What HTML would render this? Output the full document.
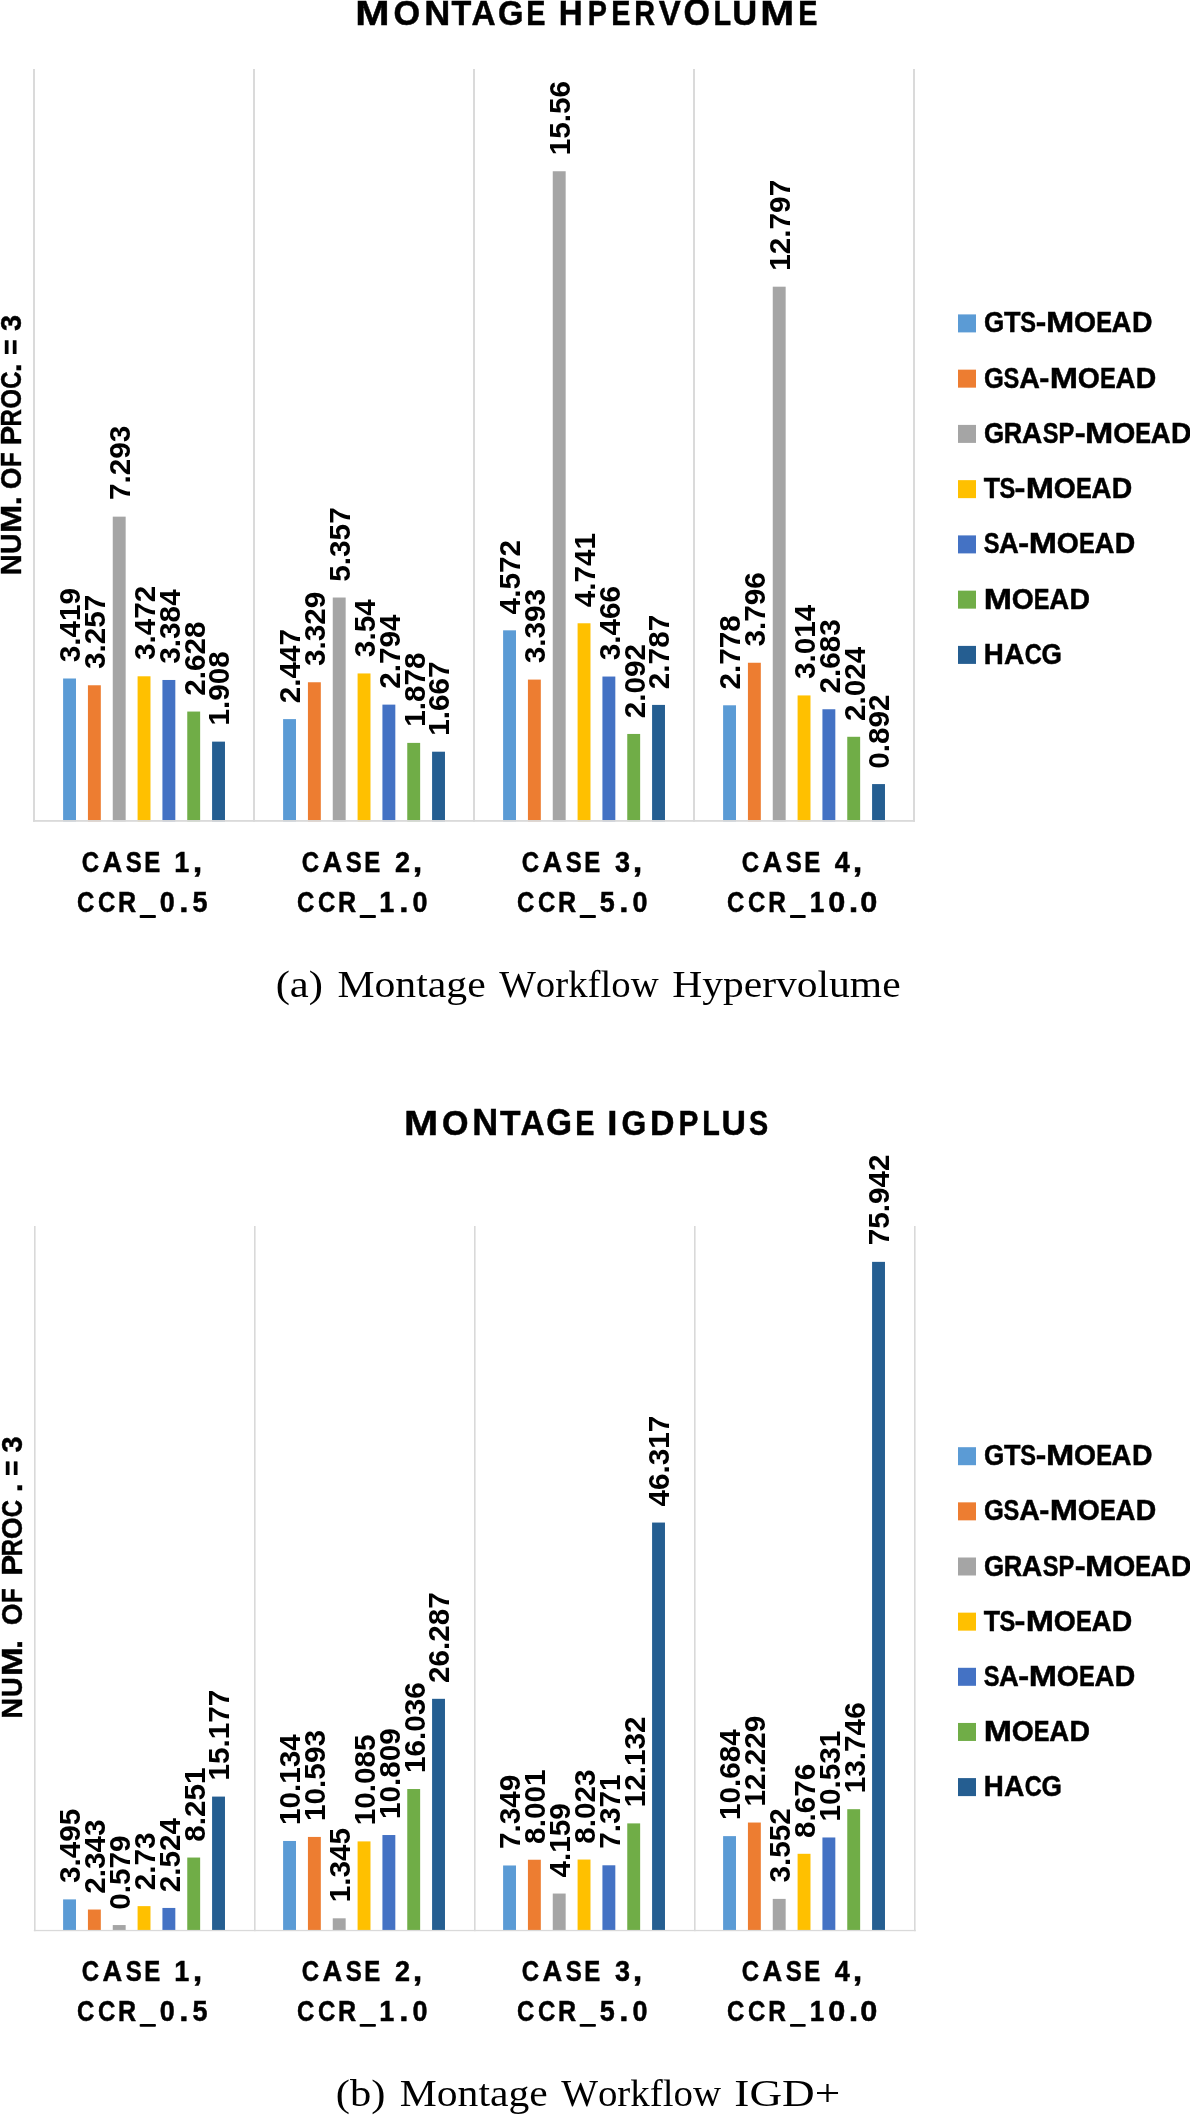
<!DOCTYPE html><html><head><meta charset="utf-8"><style>html,body{margin:0;padding:0;background:#fff;overflow:hidden}svg{display:block;will-change:transform}text{font-kerning:none;font-variant-ligatures:none;white-space:pre;fill:#000}</style></head><body>
<svg width="1190" height="2115" viewBox="0 0 1190 2115">
<rect width="1190" height="2115" fill="#fff"/>
<rect x="33.05" y="69" width="1.9" height="752.80" fill="#d9d9d9"/>
<rect x="253.05" y="69" width="1.9" height="752.80" fill="#d9d9d9"/>
<rect x="473.05" y="69" width="1.9" height="752.80" fill="#d9d9d9"/>
<rect x="693.05" y="69" width="1.9" height="752.80" fill="#d9d9d9"/>
<rect x="913.05" y="69" width="1.9" height="752.80" fill="#d9d9d9"/>
<rect x="63.10" y="678.50" width="12.9" height="142.85" fill="#5B9BD5"/>
<rect x="87.93" y="685.27" width="12.9" height="136.08" fill="#ED7D31"/>
<rect x="112.76" y="516.65" width="12.9" height="304.70" fill="#A5A5A5"/>
<rect x="137.59" y="676.29" width="12.9" height="145.06" fill="#FFC000"/>
<rect x="162.42" y="679.97" width="12.9" height="141.38" fill="#4472C4"/>
<rect x="187.25" y="711.55" width="12.9" height="109.80" fill="#70AD47"/>
<rect x="212.08" y="741.63" width="12.9" height="79.72" fill="#255E91"/>
<rect x="283.10" y="719.11" width="12.9" height="102.24" fill="#5B9BD5"/>
<rect x="307.93" y="682.26" width="12.9" height="139.09" fill="#ED7D31"/>
<rect x="332.76" y="597.53" width="12.9" height="223.82" fill="#A5A5A5"/>
<rect x="357.59" y="673.45" width="12.9" height="147.90" fill="#FFC000"/>
<rect x="382.42" y="704.62" width="12.9" height="116.73" fill="#4472C4"/>
<rect x="407.25" y="742.89" width="12.9" height="78.46" fill="#70AD47"/>
<rect x="432.08" y="751.70" width="12.9" height="69.65" fill="#255E91"/>
<rect x="503.10" y="630.33" width="12.9" height="191.02" fill="#5B9BD5"/>
<rect x="527.93" y="679.59" width="12.9" height="141.76" fill="#ED7D31"/>
<rect x="552.76" y="171.25" width="12.9" height="650.10" fill="#A5A5A5"/>
<rect x="577.59" y="623.27" width="12.9" height="198.08" fill="#FFC000"/>
<rect x="602.42" y="676.54" width="12.9" height="144.81" fill="#4472C4"/>
<rect x="627.25" y="733.95" width="12.9" height="87.40" fill="#70AD47"/>
<rect x="652.08" y="704.91" width="12.9" height="116.44" fill="#255E91"/>
<rect x="723.10" y="705.29" width="12.9" height="116.06" fill="#5B9BD5"/>
<rect x="747.93" y="662.75" width="12.9" height="158.60" fill="#ED7D31"/>
<rect x="772.76" y="286.69" width="12.9" height="534.66" fill="#A5A5A5"/>
<rect x="797.59" y="695.43" width="12.9" height="125.92" fill="#FFC000"/>
<rect x="822.42" y="709.25" width="12.9" height="112.10" fill="#4472C4"/>
<rect x="847.25" y="736.79" width="12.9" height="84.56" fill="#70AD47"/>
<rect x="872.08" y="784.08" width="12.9" height="37.27" fill="#255E91"/>
<rect x="33.00" y="820.05" width="882" height="1.75" fill="#d9d9d9"/>
<text transform="translate(80.45,662.19) rotate(-90)" style="font-family:'Liberation Sans';font-weight:700;font-size:29.7px;letter-spacing:0.000px">3.419</text>
<text transform="translate(105.28,668.95) rotate(-90)" style="font-family:'Liberation Sans';font-weight:700;font-size:29.7px;letter-spacing:0.000px">3.257</text>
<text transform="translate(130.11,500.12) rotate(-90)" style="font-family:'Liberation Sans';font-weight:700;font-size:29.7px;letter-spacing:0.000px">7.293</text>
<text transform="translate(154.94,659.97) rotate(-90)" style="font-family:'Liberation Sans';font-weight:700;font-size:29.7px;letter-spacing:0.000px">3.472</text>
<text transform="translate(179.77,663.65) rotate(-90)" style="font-family:'Liberation Sans';font-weight:700;font-size:29.7px;letter-spacing:0.000px">3.384</text>
<text transform="translate(204.60,695.78) rotate(-90)" style="font-family:'Liberation Sans';font-weight:700;font-size:29.7px;letter-spacing:0.000px">2.628</text>
<text transform="translate(229.43,725.60) rotate(-90)" style="font-family:'Liberation Sans';font-weight:700;font-size:29.7px;letter-spacing:0.000px">1.908</text>
<text transform="translate(300.45,703.34) rotate(-90)" style="font-family:'Liberation Sans';font-weight:700;font-size:29.7px;letter-spacing:0.000px">2.447</text>
<text transform="translate(325.28,665.95) rotate(-90)" style="font-family:'Liberation Sans';font-weight:700;font-size:29.7px;letter-spacing:0.000px">3.329</text>
<text transform="translate(350.11,581.65) rotate(-90)" style="font-family:'Liberation Sans';font-weight:700;font-size:29.7px;letter-spacing:0.000px">5.357</text>
<text transform="translate(374.94,657.13) rotate(-90)" style="font-family:'Liberation Sans';font-weight:700;font-size:29.7px;letter-spacing:0.000px">3.54</text>
<text transform="translate(399.77,688.85) rotate(-90)" style="font-family:'Liberation Sans';font-weight:700;font-size:29.7px;letter-spacing:0.000px">2.794</text>
<text transform="translate(424.60,726.86) rotate(-90)" style="font-family:'Liberation Sans';font-weight:700;font-size:29.7px;letter-spacing:0.000px">1.878</text>
<text transform="translate(449.43,735.67) rotate(-90)" style="font-family:'Liberation Sans';font-weight:700;font-size:29.7px;letter-spacing:0.000px">1.667</text>
<text transform="translate(520.45,614.38) rotate(-90)" style="font-family:'Liberation Sans';font-weight:700;font-size:29.7px;letter-spacing:0.000px">4.572</text>
<text transform="translate(545.28,663.27) rotate(-90)" style="font-family:'Liberation Sans';font-weight:700;font-size:29.7px;letter-spacing:0.000px">3.393</text>
<text transform="translate(570.11,155.22) rotate(-90)" style="font-family:'Liberation Sans';font-weight:700;font-size:29.7px;letter-spacing:0.000px">15.56</text>
<text transform="translate(594.94,607.32) rotate(-90)" style="font-family:'Liberation Sans';font-weight:700;font-size:29.7px;letter-spacing:0.000px">4.741</text>
<text transform="translate(619.77,660.22) rotate(-90)" style="font-family:'Liberation Sans';font-weight:700;font-size:29.7px;letter-spacing:0.000px">3.466</text>
<text transform="translate(644.60,718.18) rotate(-90)" style="font-family:'Liberation Sans';font-weight:700;font-size:29.7px;letter-spacing:0.000px">2.092</text>
<text transform="translate(669.43,689.14) rotate(-90)" style="font-family:'Liberation Sans';font-weight:700;font-size:29.7px;letter-spacing:0.000px">2.787</text>
<text transform="translate(740.45,689.51) rotate(-90)" style="font-family:'Liberation Sans';font-weight:700;font-size:29.7px;letter-spacing:0.000px">2.778</text>
<text transform="translate(765.28,646.43) rotate(-90)" style="font-family:'Liberation Sans';font-weight:700;font-size:29.7px;letter-spacing:0.000px">3.796</text>
<text transform="translate(790.11,270.66) rotate(-90)" style="font-family:'Liberation Sans';font-weight:700;font-size:29.7px;letter-spacing:0.000px">12.797</text>
<text transform="translate(814.94,679.11) rotate(-90)" style="font-family:'Liberation Sans';font-weight:700;font-size:29.7px;letter-spacing:0.000px">3.014</text>
<text transform="translate(839.77,693.48) rotate(-90)" style="font-family:'Liberation Sans';font-weight:700;font-size:29.7px;letter-spacing:0.000px">2.683</text>
<text transform="translate(864.60,721.02) rotate(-90)" style="font-family:'Liberation Sans';font-weight:700;font-size:29.7px;letter-spacing:0.000px">2.024</text>
<text transform="translate(889.43,768.76) rotate(-90)" style="font-family:'Liberation Sans';font-weight:700;font-size:29.7px;letter-spacing:0.000px">0.892</text>
<g style="font-family:'Liberation Sans';font-weight:700;font-size:36px;stroke:#000;stroke-width:0.5px"><text transform="translate(355.34,25.20) scale(1.144,1)">M</text><text transform="translate(393.40,25.20) scale(0.951,1)">O</text><text transform="translate(424.19,25.20) scale(1.002,1)">N</text><text transform="translate(451.54,25.20) scale(0.901,1)">T</text><text transform="translate(471.57,25.20) scale(0.927,1)">A</text><text transform="translate(497.96,25.20) scale(0.910,1)">G</text><text transform="translate(526.29,25.20) scale(0.800,1)">E</text><text transform="translate(558.78,25.20) scale(0.921,1)">H</text><text transform="translate(587.87,25.20) scale(0.800,1)">P</text><text transform="translate(611.14,25.20) scale(0.800,1)">E</text><text transform="translate(634.33,25.20) scale(0.800,1)">R</text><text transform="translate(658.78,25.20) scale(0.914,1)">V</text><text transform="translate(683.61,25.20) scale(0.943,1)">O</text><text transform="translate(713.53,25.20) scale(0.800,1)">L</text><text transform="translate(732.23,25.20) scale(0.957,1)">U</text><text transform="translate(760.17,25.20) scale(1.132,1)">M</text><text transform="translate(798.19,25.20) scale(0.800,1)">E</text></g>
<g style="font-family:'Liberation Sans';font-weight:700;font-size:30px;stroke:#000;stroke-width:0.4px"><text transform="translate(21.20,575.25) rotate(-90) scale(0.970,1)">N</text><text transform="translate(21.20,553.90) rotate(-90) scale(0.943,1)">U</text><text transform="translate(21.20,532.97) rotate(-90) scale(1.130,1)">M</text><text transform="translate(21.20,505.21) rotate(-90) scale(1.087,1)">.</text><text transform="translate(21.20,489.15) rotate(-90) scale(0.931,1)">O</text><text transform="translate(21.20,467.04) rotate(-90) scale(0.800,1)">F</text><text transform="translate(21.20,445.25) rotate(-90) scale(0.972,1)">P</text><text transform="translate(21.20,426.57) rotate(-90) scale(0.800,1)">R</text><text transform="translate(21.20,408.65) rotate(-90) scale(0.854,1)">O</text><text transform="translate(21.20,388.68) rotate(-90) scale(0.800,1)">C</text><text transform="translate(21.20,372.16) rotate(-90) scale(1.063,1)">.</text><text transform="translate(21.20,355.11) rotate(-90) scale(0.891,1)">=</text><text transform="translate(21.20,331.06) rotate(-90) scale(0.959,1)">3</text></g>
<rect x="958" y="314.40" width="18" height="18" fill="#5B9BD5"/>
<g style="font-family:'Liberation Sans';font-weight:700;font-size:29.5px;stroke:#000;stroke-width:0.5px"><text transform="translate(984.03,332.40) scale(0.884,1)">G</text><text transform="translate(1003.90,332.40) scale(0.915,1)">T</text><text transform="translate(1020.25,332.40) scale(0.800,1)">S</text><text transform="translate(1035.87,332.40) scale(1.068,1)">-</text><text transform="translate(1046.02,332.40) scale(1.150,1)">M</text><text transform="translate(1074.04,332.40) scale(0.961,1)">O</text><text transform="translate(1096.15,332.40) scale(0.800,1)">E</text><text transform="translate(1111.61,332.40) scale(0.935,1)">A</text><text transform="translate(1131.90,332.40) scale(0.962,1)">D</text></g>
<rect x="958" y="369.65" width="18" height="18" fill="#ED7D31"/>
<g style="font-family:'Liberation Sans';font-weight:700;font-size:29.5px;stroke:#000;stroke-width:0.5px"><text transform="translate(983.95,387.65) scale(0.864,1)">G</text><text transform="translate(1003.50,387.65) scale(0.800,1)">S</text><text transform="translate(1019.29,387.65) scale(0.970,1)">A</text><text transform="translate(1039.32,387.65) scale(1.028,1)">-</text><text transform="translate(1049.82,387.65) scale(1.150,1)">M</text><text transform="translate(1077.84,387.65) scale(0.961,1)">O</text><text transform="translate(1099.95,387.65) scale(0.800,1)">E</text><text transform="translate(1115.41,387.65) scale(0.935,1)">A</text><text transform="translate(1135.70,387.65) scale(0.962,1)">D</text></g>
<rect x="958" y="424.90" width="18" height="18" fill="#A5A5A5"/>
<g style="font-family:'Liberation Sans';font-weight:700;font-size:29.5px;stroke:#000;stroke-width:0.5px"><text transform="translate(984.04,442.90) scale(0.879,1)">G</text><text transform="translate(1003.69,442.90) scale(0.865,1)">R</text><text transform="translate(1021.79,442.90) scale(0.960,1)">A</text><text transform="translate(1042.75,442.90) scale(0.800,1)">S</text><text transform="translate(1058.59,442.90) scale(0.800,1)">P</text><text transform="translate(1074.82,442.90) scale(1.108,1)">-</text><text transform="translate(1085.12,442.90) scale(1.150,1)">M</text><text transform="translate(1113.14,442.90) scale(0.961,1)">O</text><text transform="translate(1135.25,442.90) scale(0.800,1)">E</text><text transform="translate(1150.71,442.90) scale(0.935,1)">A</text><text transform="translate(1171.00,442.90) scale(0.962,1)">D</text></g>
<rect x="958" y="480.15" width="18" height="18" fill="#FFC000"/>
<g style="font-family:'Liberation Sans';font-weight:700;font-size:29.5px;stroke:#000;stroke-width:0.5px"><text transform="translate(983.70,498.15) scale(0.904,1)">T</text><text transform="translate(999.45,498.15) scale(0.800,1)">S</text><text transform="translate(1014.52,498.15) scale(1.108,1)">-</text><text transform="translate(1025.82,498.15) scale(1.150,1)">M</text><text transform="translate(1053.84,498.15) scale(0.961,1)">O</text><text transform="translate(1075.95,498.15) scale(0.800,1)">E</text><text transform="translate(1091.41,498.15) scale(0.935,1)">A</text><text transform="translate(1111.70,498.15) scale(0.962,1)">D</text></g>
<rect x="958" y="535.40" width="18" height="18" fill="#4472C4"/>
<g style="font-family:'Liberation Sans';font-weight:700;font-size:29.5px;stroke:#000;stroke-width:0.5px"><text transform="translate(983.75,553.40) scale(0.800,1)">S</text><text transform="translate(999.02,553.40) scale(0.930,1)">A</text><text transform="translate(1018.32,553.40) scale(1.108,1)">-</text><text transform="translate(1028.82,553.40) scale(1.150,1)">M</text><text transform="translate(1056.84,553.40) scale(0.961,1)">O</text><text transform="translate(1078.95,553.40) scale(0.800,1)">E</text><text transform="translate(1094.41,553.40) scale(0.935,1)">A</text><text transform="translate(1114.70,553.40) scale(0.962,1)">D</text></g>
<rect x="958" y="590.65" width="18" height="18" fill="#70AD47"/>
<g style="font-family:'Liberation Sans';font-weight:700;font-size:29.5px;stroke:#000;stroke-width:0.5px"><text transform="translate(983.72,608.65) scale(1.150,1)">M</text><text transform="translate(1011.74,608.65) scale(0.961,1)">O</text><text transform="translate(1033.85,608.65) scale(0.800,1)">E</text><text transform="translate(1049.31,608.65) scale(0.935,1)">A</text><text transform="translate(1069.60,608.65) scale(0.962,1)">D</text></g>
<rect x="958" y="645.90" width="18" height="18" fill="#255E91"/>
<g style="font-family:'Liberation Sans';font-weight:700;font-size:29.5px;stroke:#000;stroke-width:0.5px"><text transform="translate(983.85,663.90) scale(0.940,1)">H</text><text transform="translate(1004.10,663.90) scale(0.955,1)">A</text><text transform="translate(1024.67,663.90) scale(0.800,1)">C</text><text transform="translate(1041.52,663.90) scale(0.889,1)">G</text></g>
<g style="font-family:'Liberation Sans';font-weight:700;font-size:30px;stroke:#000;stroke-width:0.5px"><text transform="translate(81.72,872.00) scale(0.800,1)">C</text><text transform="translate(102.52,872.00) scale(0.909,1)">A</text><text transform="translate(125.67,872.00) scale(0.800,1)">S</text><text transform="translate(144.36,872.00) scale(0.800,1)">E</text><text transform="translate(174.37,872.00) scale(0.900,1)">1</text><text transform="translate(192.79,872.00) scale(1.150,1)">,</text></g>
<g style="font-family:'Liberation Sans';font-weight:700;font-size:30px;stroke:#000;stroke-width:0.5px"><text transform="translate(77.12,912.40) scale(0.800,1)">C</text><text transform="translate(97.92,912.40) scale(0.800,1)">C</text><text transform="translate(118.02,912.40) scale(0.835,1)">R</text><text transform="translate(159.86,912.40) scale(0.900,1)">0</text><text transform="translate(179.24,912.40) scale(1.110,1)">.</text><text transform="translate(192.45,912.40) scale(0.900,1)">5</text></g><rect x="139.70" y="915.10" width="16.20" height="2.9" rx="0.8"/>
<g style="font-family:'Liberation Sans';font-weight:700;font-size:30px;stroke:#000;stroke-width:0.5px"><text transform="translate(301.72,872.00) scale(0.800,1)">C</text><text transform="translate(322.52,872.00) scale(0.909,1)">A</text><text transform="translate(345.67,872.00) scale(0.800,1)">S</text><text transform="translate(364.36,872.00) scale(0.800,1)">E</text><text transform="translate(394.91,872.00) scale(0.900,1)">2</text><text transform="translate(412.79,872.00) scale(1.150,1)">,</text></g>
<g style="font-family:'Liberation Sans';font-weight:700;font-size:30px;stroke:#000;stroke-width:0.5px"><text transform="translate(297.12,912.40) scale(0.800,1)">C</text><text transform="translate(317.92,912.40) scale(0.800,1)">C</text><text transform="translate(338.02,912.40) scale(0.835,1)">R</text><text transform="translate(379.37,912.40) scale(0.900,1)">1</text><text transform="translate(399.24,912.40) scale(1.110,1)">.</text><text transform="translate(412.51,912.40) scale(0.900,1)">0</text></g><rect x="359.70" y="915.10" width="16.20" height="2.9" rx="0.8"/>
<g style="font-family:'Liberation Sans';font-weight:700;font-size:30px;stroke:#000;stroke-width:0.5px"><text transform="translate(521.72,872.00) scale(0.800,1)">C</text><text transform="translate(542.52,872.00) scale(0.909,1)">A</text><text transform="translate(565.67,872.00) scale(0.800,1)">S</text><text transform="translate(584.36,872.00) scale(0.800,1)">E</text><text transform="translate(615.02,872.00) scale(0.900,1)">3</text><text transform="translate(632.79,872.00) scale(1.150,1)">,</text></g>
<g style="font-family:'Liberation Sans';font-weight:700;font-size:30px;stroke:#000;stroke-width:0.5px"><text transform="translate(517.12,912.40) scale(0.800,1)">C</text><text transform="translate(537.92,912.40) scale(0.800,1)">C</text><text transform="translate(558.02,912.40) scale(0.835,1)">R</text><text transform="translate(599.80,912.40) scale(0.900,1)">5</text><text transform="translate(619.24,912.40) scale(1.110,1)">.</text><text transform="translate(632.51,912.40) scale(0.900,1)">0</text></g><rect x="579.70" y="915.10" width="16.20" height="2.9" rx="0.8"/>
<g style="font-family:'Liberation Sans';font-weight:700;font-size:30px;stroke:#000;stroke-width:0.5px"><text transform="translate(741.72,872.00) scale(0.800,1)">C</text><text transform="translate(762.52,872.00) scale(0.909,1)">A</text><text transform="translate(785.67,872.00) scale(0.800,1)">S</text><text transform="translate(804.36,872.00) scale(0.800,1)">E</text><text transform="translate(834.71,872.00) scale(0.900,1)">4</text><text transform="translate(852.79,872.00) scale(1.150,1)">,</text></g>
<g style="font-family:'Liberation Sans';font-weight:700;font-size:30px;stroke:#000;stroke-width:0.5px"><text transform="translate(726.97,912.40) scale(0.800,1)">C</text><text transform="translate(747.92,912.40) scale(0.800,1)">C</text><text transform="translate(768.27,912.40) scale(0.814,1)">R</text><text transform="translate(809.85,912.40) scale(0.874,1)">1</text><text transform="translate(828.29,912.40) scale(1.023,1)">0</text><text transform="translate(848.67,912.40) scale(1.150,1)">.</text><text transform="translate(860.19,912.40) scale(1.023,1)">0</text></g><rect x="790.00" y="915.10" width="15.70" height="2.9" rx="0.8"/>
<text transform="translate(275.63,997.00) scale(1.1081,1)" style="font-family:'Liberation Serif';font-weight:400;font-size:38.5px" >(a)</text>
<text transform="translate(337.40,997.00) scale(1.0840,1)" style="font-family:'Liberation Serif';font-weight:400;font-size:38.5px" >Montage</text>
<text transform="translate(499.16,997.00) scale(1.0087,1)" style="font-family:'Liberation Serif';font-weight:400;font-size:38.5px" >Workflow</text>
<text transform="translate(672.20,997.00) scale(1.0791,1)" style="font-family:'Liberation Serif';font-weight:400;font-size:38.5px" >Hypervolume</text>
<rect x="34.00" y="1226" width="1.6" height="705.20" fill="#d9d9d9"/>
<rect x="254.00" y="1226" width="1.6" height="705.20" fill="#d9d9d9"/>
<rect x="474.00" y="1226" width="1.6" height="705.20" fill="#d9d9d9"/>
<rect x="694.00" y="1226" width="1.6" height="705.20" fill="#d9d9d9"/>
<rect x="914.00" y="1226" width="1.6" height="705.20" fill="#d9d9d9"/>
<rect x="63.10" y="1899.39" width="12.9" height="30.76" fill="#5B9BD5"/>
<rect x="87.93" y="1909.53" width="12.9" height="20.62" fill="#ED7D31"/>
<rect x="112.76" y="1925.05" width="12.9" height="5.10" fill="#A5A5A5"/>
<rect x="137.59" y="1906.13" width="12.9" height="24.02" fill="#FFC000"/>
<rect x="162.42" y="1907.94" width="12.9" height="22.21" fill="#4472C4"/>
<rect x="187.25" y="1857.54" width="12.9" height="72.61" fill="#70AD47"/>
<rect x="212.08" y="1796.59" width="12.9" height="133.56" fill="#255E91"/>
<rect x="283.10" y="1840.97" width="12.9" height="89.18" fill="#5B9BD5"/>
<rect x="307.93" y="1836.93" width="12.9" height="93.22" fill="#ED7D31"/>
<rect x="332.76" y="1918.31" width="12.9" height="11.84" fill="#A5A5A5"/>
<rect x="357.59" y="1841.40" width="12.9" height="88.75" fill="#FFC000"/>
<rect x="382.42" y="1835.03" width="12.9" height="95.12" fill="#4472C4"/>
<rect x="407.25" y="1789.03" width="12.9" height="141.12" fill="#70AD47"/>
<rect x="432.08" y="1698.82" width="12.9" height="231.33" fill="#255E91"/>
<rect x="503.10" y="1865.48" width="12.9" height="64.67" fill="#5B9BD5"/>
<rect x="527.93" y="1859.74" width="12.9" height="70.41" fill="#ED7D31"/>
<rect x="552.76" y="1893.55" width="12.9" height="36.60" fill="#A5A5A5"/>
<rect x="577.59" y="1859.55" width="12.9" height="70.60" fill="#FFC000"/>
<rect x="602.42" y="1865.29" width="12.9" height="64.86" fill="#4472C4"/>
<rect x="627.25" y="1823.39" width="12.9" height="106.76" fill="#70AD47"/>
<rect x="652.08" y="1522.56" width="12.9" height="407.59" fill="#255E91"/>
<rect x="723.10" y="1836.13" width="12.9" height="94.02" fill="#5B9BD5"/>
<rect x="747.93" y="1822.53" width="12.9" height="107.62" fill="#ED7D31"/>
<rect x="772.76" y="1898.89" width="12.9" height="31.26" fill="#A5A5A5"/>
<rect x="797.59" y="1853.80" width="12.9" height="76.35" fill="#FFC000"/>
<rect x="822.42" y="1837.48" width="12.9" height="92.67" fill="#4472C4"/>
<rect x="847.25" y="1809.19" width="12.9" height="120.96" fill="#70AD47"/>
<rect x="872.08" y="1261.86" width="12.9" height="668.29" fill="#255E91"/>
<rect x="33.80" y="1929.90" width="882" height="1.30" fill="#d9d9d9"/>
<text transform="translate(80.45,1883.08) rotate(-90)" style="font-family:'Liberation Sans';font-weight:700;font-size:29.7px;letter-spacing:0.000px">3.495</text>
<text transform="translate(105.28,1893.76) rotate(-90)" style="font-family:'Liberation Sans';font-weight:700;font-size:29.7px;letter-spacing:0.000px">2.343</text>
<text transform="translate(130.11,1909.73) rotate(-90)" style="font-family:'Liberation Sans';font-weight:700;font-size:29.7px;letter-spacing:0.000px">0.579</text>
<text transform="translate(154.94,1890.36) rotate(-90)" style="font-family:'Liberation Sans';font-weight:700;font-size:29.7px;letter-spacing:0.000px">2.73</text>
<text transform="translate(179.77,1892.17) rotate(-90)" style="font-family:'Liberation Sans';font-weight:700;font-size:29.7px;letter-spacing:0.000px">2.524</text>
<text transform="translate(204.60,1841.68) rotate(-90)" style="font-family:'Liberation Sans';font-weight:700;font-size:29.7px;letter-spacing:0.000px">8.251</text>
<text transform="translate(229.43,1780.56) rotate(-90)" style="font-family:'Liberation Sans';font-weight:700;font-size:29.7px;letter-spacing:0.000px">15.177</text>
<text transform="translate(300.45,1824.94) rotate(-90)" style="font-family:'Liberation Sans';font-weight:700;font-size:29.7px;letter-spacing:0.000px">10.134</text>
<text transform="translate(325.28,1820.90) rotate(-90)" style="font-family:'Liberation Sans';font-weight:700;font-size:29.7px;letter-spacing:0.000px">10.593</text>
<text transform="translate(350.11,1902.28) rotate(-90)" style="font-family:'Liberation Sans';font-weight:700;font-size:29.7px;letter-spacing:0.000px">1.345</text>
<text transform="translate(374.94,1825.37) rotate(-90)" style="font-family:'Liberation Sans';font-weight:700;font-size:29.7px;letter-spacing:0.000px">10.085</text>
<text transform="translate(399.77,1819.00) rotate(-90)" style="font-family:'Liberation Sans';font-weight:700;font-size:29.7px;letter-spacing:0.000px">10.809</text>
<text transform="translate(424.60,1773.00) rotate(-90)" style="font-family:'Liberation Sans';font-weight:700;font-size:29.7px;letter-spacing:0.000px">16.036</text>
<text transform="translate(449.43,1683.05) rotate(-90)" style="font-family:'Liberation Sans';font-weight:700;font-size:29.7px;letter-spacing:0.000px">26.287</text>
<text transform="translate(520.45,1848.95) rotate(-90)" style="font-family:'Liberation Sans';font-weight:700;font-size:29.7px;letter-spacing:0.000px">7.349</text>
<text transform="translate(545.28,1843.88) rotate(-90)" style="font-family:'Liberation Sans';font-weight:700;font-size:29.7px;letter-spacing:0.000px">8.001</text>
<text transform="translate(570.11,1877.60) rotate(-90)" style="font-family:'Liberation Sans';font-weight:700;font-size:29.7px;letter-spacing:0.000px">4.159</text>
<text transform="translate(594.94,1843.69) rotate(-90)" style="font-family:'Liberation Sans';font-weight:700;font-size:29.7px;letter-spacing:0.000px">8.023</text>
<text transform="translate(619.77,1848.76) rotate(-90)" style="font-family:'Liberation Sans';font-weight:700;font-size:29.7px;letter-spacing:0.000px">7.371</text>
<text transform="translate(644.60,1807.36) rotate(-90)" style="font-family:'Liberation Sans';font-weight:700;font-size:29.7px;letter-spacing:0.000px">12.132</text>
<text transform="translate(669.43,1506.61) rotate(-90)" style="font-family:'Liberation Sans';font-weight:700;font-size:29.7px;letter-spacing:0.000px">46.317</text>
<text transform="translate(740.45,1820.10) rotate(-90)" style="font-family:'Liberation Sans';font-weight:700;font-size:29.7px;letter-spacing:0.000px">10.684</text>
<text transform="translate(765.28,1806.51) rotate(-90)" style="font-family:'Liberation Sans';font-weight:700;font-size:29.7px;letter-spacing:0.000px">12.229</text>
<text transform="translate(790.11,1882.57) rotate(-90)" style="font-family:'Liberation Sans';font-weight:700;font-size:29.7px;letter-spacing:0.000px">3.552</text>
<text transform="translate(814.94,1837.94) rotate(-90)" style="font-family:'Liberation Sans';font-weight:700;font-size:29.7px;letter-spacing:0.000px">8.676</text>
<text transform="translate(839.77,1821.45) rotate(-90)" style="font-family:'Liberation Sans';font-weight:700;font-size:29.7px;letter-spacing:0.000px">10.531</text>
<text transform="translate(864.60,1793.16) rotate(-90)" style="font-family:'Liberation Sans';font-weight:700;font-size:29.7px;letter-spacing:0.000px">13.746</text>
<text transform="translate(889.43,1245.34) rotate(-90)" style="font-family:'Liberation Sans';font-weight:700;font-size:29.7px;letter-spacing:0.000px">75.942</text>
<g style="font-family:'Liberation Sans';font-weight:700;font-size:36px;stroke:#000;stroke-width:0.5px"><text transform="translate(403.95,1135.00) scale(1.140,1)">M</text><text transform="translate(442.00,1135.00) scale(0.947,1)">O</text><text transform="translate(472.30,1135.00) scale(0.997,1)">N</text><text transform="translate(499.92,1135.00) scale(0.934,1)">T</text><text transform="translate(520.47,1135.00) scale(0.927,1)">A</text><text transform="translate(546.34,1135.00) scale(0.918,1)">G</text><text transform="translate(575.14,1135.00) scale(0.800,1)">E</text><text transform="translate(607.34,1135.00) scale(1.022,1)">I</text><text transform="translate(621.39,1135.00) scale(0.885,1)">G</text><text transform="translate(649.93,1135.00) scale(0.942,1)">D</text><text transform="translate(678.40,1135.00) scale(0.830,1)">P</text><text transform="translate(702.18,1135.00) scale(0.800,1)">L</text><text transform="translate(721.47,1135.00) scale(0.938,1)">U</text><text transform="translate(748.94,1135.00) scale(0.800,1)">S</text></g>
<g style="font-family:'Liberation Sans';font-weight:700;font-size:30px;stroke:#000;stroke-width:0.4px"><text transform="translate(21.80,1718.83) rotate(-90) scale(0.964,1)">N</text><text transform="translate(21.80,1697.36) rotate(-90) scale(0.921,1)">U</text><text transform="translate(21.80,1676.07) rotate(-90) scale(1.150,1)">M</text><text transform="translate(21.80,1649.01) rotate(-90) scale(1.087,1)">.</text><text transform="translate(21.80,1625.15) rotate(-90) scale(0.935,1)">O</text><text transform="translate(21.80,1603.04) rotate(-90) scale(0.800,1)">F</text><text transform="translate(21.80,1575.80) rotate(-90) scale(1.048,1)">P</text><text transform="translate(21.80,1556.43) rotate(-90) scale(0.814,1)">R</text><text transform="translate(21.80,1539.36) rotate(-90) scale(0.945,1)">O</text><text transform="translate(21.80,1517.28) rotate(-90) scale(0.800,1)">C</text><text transform="translate(21.80,1492.26) rotate(-90) scale(1.063,1)">.</text><text transform="translate(21.80,1476.09) rotate(-90) scale(0.877,1)">=</text><text transform="translate(21.80,1452.56) rotate(-90) scale(0.959,1)">3</text></g>
<rect x="958" y="1447.20" width="18" height="18" fill="#5B9BD5"/>
<g style="font-family:'Liberation Sans';font-weight:700;font-size:29.5px;stroke:#000;stroke-width:0.5px"><text transform="translate(984.03,1465.20) scale(0.884,1)">G</text><text transform="translate(1003.90,1465.20) scale(0.915,1)">T</text><text transform="translate(1020.25,1465.20) scale(0.800,1)">S</text><text transform="translate(1035.87,1465.20) scale(1.068,1)">-</text><text transform="translate(1046.02,1465.20) scale(1.150,1)">M</text><text transform="translate(1074.04,1465.20) scale(0.961,1)">O</text><text transform="translate(1096.15,1465.20) scale(0.800,1)">E</text><text transform="translate(1111.61,1465.20) scale(0.935,1)">A</text><text transform="translate(1131.90,1465.20) scale(0.962,1)">D</text></g>
<rect x="958" y="1502.35" width="18" height="18" fill="#ED7D31"/>
<g style="font-family:'Liberation Sans';font-weight:700;font-size:29.5px;stroke:#000;stroke-width:0.5px"><text transform="translate(983.95,1520.35) scale(0.864,1)">G</text><text transform="translate(1003.50,1520.35) scale(0.800,1)">S</text><text transform="translate(1019.29,1520.35) scale(0.970,1)">A</text><text transform="translate(1039.32,1520.35) scale(1.028,1)">-</text><text transform="translate(1049.82,1520.35) scale(1.150,1)">M</text><text transform="translate(1077.84,1520.35) scale(0.961,1)">O</text><text transform="translate(1099.95,1520.35) scale(0.800,1)">E</text><text transform="translate(1115.41,1520.35) scale(0.935,1)">A</text><text transform="translate(1135.70,1520.35) scale(0.962,1)">D</text></g>
<rect x="958" y="1557.50" width="18" height="18" fill="#A5A5A5"/>
<g style="font-family:'Liberation Sans';font-weight:700;font-size:29.5px;stroke:#000;stroke-width:0.5px"><text transform="translate(984.04,1575.50) scale(0.879,1)">G</text><text transform="translate(1003.69,1575.50) scale(0.865,1)">R</text><text transform="translate(1021.79,1575.50) scale(0.960,1)">A</text><text transform="translate(1042.75,1575.50) scale(0.800,1)">S</text><text transform="translate(1058.59,1575.50) scale(0.800,1)">P</text><text transform="translate(1074.82,1575.50) scale(1.108,1)">-</text><text transform="translate(1085.12,1575.50) scale(1.150,1)">M</text><text transform="translate(1113.14,1575.50) scale(0.961,1)">O</text><text transform="translate(1135.25,1575.50) scale(0.800,1)">E</text><text transform="translate(1150.71,1575.50) scale(0.935,1)">A</text><text transform="translate(1171.00,1575.50) scale(0.962,1)">D</text></g>
<rect x="958" y="1612.65" width="18" height="18" fill="#FFC000"/>
<g style="font-family:'Liberation Sans';font-weight:700;font-size:29.5px;stroke:#000;stroke-width:0.5px"><text transform="translate(983.70,1630.65) scale(0.904,1)">T</text><text transform="translate(999.45,1630.65) scale(0.800,1)">S</text><text transform="translate(1014.52,1630.65) scale(1.108,1)">-</text><text transform="translate(1025.82,1630.65) scale(1.150,1)">M</text><text transform="translate(1053.84,1630.65) scale(0.961,1)">O</text><text transform="translate(1075.95,1630.65) scale(0.800,1)">E</text><text transform="translate(1091.41,1630.65) scale(0.935,1)">A</text><text transform="translate(1111.70,1630.65) scale(0.962,1)">D</text></g>
<rect x="958" y="1667.80" width="18" height="18" fill="#4472C4"/>
<g style="font-family:'Liberation Sans';font-weight:700;font-size:29.5px;stroke:#000;stroke-width:0.5px"><text transform="translate(983.75,1685.80) scale(0.800,1)">S</text><text transform="translate(999.02,1685.80) scale(0.930,1)">A</text><text transform="translate(1018.32,1685.80) scale(1.108,1)">-</text><text transform="translate(1028.82,1685.80) scale(1.150,1)">M</text><text transform="translate(1056.84,1685.80) scale(0.961,1)">O</text><text transform="translate(1078.95,1685.80) scale(0.800,1)">E</text><text transform="translate(1094.41,1685.80) scale(0.935,1)">A</text><text transform="translate(1114.70,1685.80) scale(0.962,1)">D</text></g>
<rect x="958" y="1722.95" width="18" height="18" fill="#70AD47"/>
<g style="font-family:'Liberation Sans';font-weight:700;font-size:29.5px;stroke:#000;stroke-width:0.5px"><text transform="translate(983.72,1740.95) scale(1.150,1)">M</text><text transform="translate(1011.74,1740.95) scale(0.961,1)">O</text><text transform="translate(1033.85,1740.95) scale(0.800,1)">E</text><text transform="translate(1049.31,1740.95) scale(0.935,1)">A</text><text transform="translate(1069.60,1740.95) scale(0.962,1)">D</text></g>
<rect x="958" y="1778.10" width="18" height="18" fill="#255E91"/>
<g style="font-family:'Liberation Sans';font-weight:700;font-size:29.5px;stroke:#000;stroke-width:0.5px"><text transform="translate(983.85,1796.10) scale(0.940,1)">H</text><text transform="translate(1004.10,1796.10) scale(0.955,1)">A</text><text transform="translate(1024.67,1796.10) scale(0.800,1)">C</text><text transform="translate(1041.52,1796.10) scale(0.889,1)">G</text></g>
<g style="font-family:'Liberation Sans';font-weight:700;font-size:30px;stroke:#000;stroke-width:0.5px"><text transform="translate(81.72,1981.00) scale(0.800,1)">C</text><text transform="translate(102.52,1981.00) scale(0.909,1)">A</text><text transform="translate(125.67,1981.00) scale(0.800,1)">S</text><text transform="translate(144.36,1981.00) scale(0.800,1)">E</text><text transform="translate(174.37,1981.00) scale(0.900,1)">1</text><text transform="translate(192.79,1981.00) scale(1.150,1)">,</text></g>
<g style="font-family:'Liberation Sans';font-weight:700;font-size:30px;stroke:#000;stroke-width:0.5px"><text transform="translate(77.12,2021.20) scale(0.800,1)">C</text><text transform="translate(97.92,2021.20) scale(0.800,1)">C</text><text transform="translate(118.02,2021.20) scale(0.835,1)">R</text><text transform="translate(159.86,2021.20) scale(0.900,1)">0</text><text transform="translate(179.24,2021.20) scale(1.110,1)">.</text><text transform="translate(192.45,2021.20) scale(0.900,1)">5</text></g><rect x="139.70" y="2023.90" width="16.20" height="2.9" rx="0.8"/>
<g style="font-family:'Liberation Sans';font-weight:700;font-size:30px;stroke:#000;stroke-width:0.5px"><text transform="translate(301.72,1981.00) scale(0.800,1)">C</text><text transform="translate(322.52,1981.00) scale(0.909,1)">A</text><text transform="translate(345.67,1981.00) scale(0.800,1)">S</text><text transform="translate(364.36,1981.00) scale(0.800,1)">E</text><text transform="translate(394.91,1981.00) scale(0.900,1)">2</text><text transform="translate(412.79,1981.00) scale(1.150,1)">,</text></g>
<g style="font-family:'Liberation Sans';font-weight:700;font-size:30px;stroke:#000;stroke-width:0.5px"><text transform="translate(297.12,2021.20) scale(0.800,1)">C</text><text transform="translate(317.92,2021.20) scale(0.800,1)">C</text><text transform="translate(338.02,2021.20) scale(0.835,1)">R</text><text transform="translate(379.37,2021.20) scale(0.900,1)">1</text><text transform="translate(399.24,2021.20) scale(1.110,1)">.</text><text transform="translate(412.51,2021.20) scale(0.900,1)">0</text></g><rect x="359.70" y="2023.90" width="16.20" height="2.9" rx="0.8"/>
<g style="font-family:'Liberation Sans';font-weight:700;font-size:30px;stroke:#000;stroke-width:0.5px"><text transform="translate(521.72,1981.00) scale(0.800,1)">C</text><text transform="translate(542.52,1981.00) scale(0.909,1)">A</text><text transform="translate(565.67,1981.00) scale(0.800,1)">S</text><text transform="translate(584.36,1981.00) scale(0.800,1)">E</text><text transform="translate(615.02,1981.00) scale(0.900,1)">3</text><text transform="translate(632.79,1981.00) scale(1.150,1)">,</text></g>
<g style="font-family:'Liberation Sans';font-weight:700;font-size:30px;stroke:#000;stroke-width:0.5px"><text transform="translate(517.12,2021.20) scale(0.800,1)">C</text><text transform="translate(537.92,2021.20) scale(0.800,1)">C</text><text transform="translate(558.02,2021.20) scale(0.835,1)">R</text><text transform="translate(599.80,2021.20) scale(0.900,1)">5</text><text transform="translate(619.24,2021.20) scale(1.110,1)">.</text><text transform="translate(632.51,2021.20) scale(0.900,1)">0</text></g><rect x="579.70" y="2023.90" width="16.20" height="2.9" rx="0.8"/>
<g style="font-family:'Liberation Sans';font-weight:700;font-size:30px;stroke:#000;stroke-width:0.5px"><text transform="translate(741.72,1981.00) scale(0.800,1)">C</text><text transform="translate(762.52,1981.00) scale(0.909,1)">A</text><text transform="translate(785.67,1981.00) scale(0.800,1)">S</text><text transform="translate(804.36,1981.00) scale(0.800,1)">E</text><text transform="translate(834.71,1981.00) scale(0.900,1)">4</text><text transform="translate(852.79,1981.00) scale(1.150,1)">,</text></g>
<g style="font-family:'Liberation Sans';font-weight:700;font-size:30px;stroke:#000;stroke-width:0.5px"><text transform="translate(726.97,2021.20) scale(0.800,1)">C</text><text transform="translate(747.92,2021.20) scale(0.800,1)">C</text><text transform="translate(768.27,2021.20) scale(0.814,1)">R</text><text transform="translate(809.85,2021.20) scale(0.874,1)">1</text><text transform="translate(828.29,2021.20) scale(1.023,1)">0</text><text transform="translate(848.67,2021.20) scale(1.150,1)">.</text><text transform="translate(860.19,2021.20) scale(1.023,1)">0</text></g><rect x="790.00" y="2023.90" width="15.70" height="2.9" rx="0.8"/>
<text transform="translate(335.73,2105.90) scale(1.1058,1)" style="font-family:'Liberation Serif';font-weight:400;font-size:38.5px" >(b)</text>
<text transform="translate(399.80,2105.90) scale(1.0810,1)" style="font-family:'Liberation Serif';font-weight:400;font-size:38.5px" >Montage</text>
<text transform="translate(561.16,2105.90) scale(1.0112,1)" style="font-family:'Liberation Serif';font-weight:400;font-size:38.5px" >Workflow</text>
<text transform="translate(734.37,2105.90) scale(1.1742,1)" style="font-family:'Liberation Serif';font-weight:400;font-size:38.5px" >IGD+</text>
</svg></body></html>
